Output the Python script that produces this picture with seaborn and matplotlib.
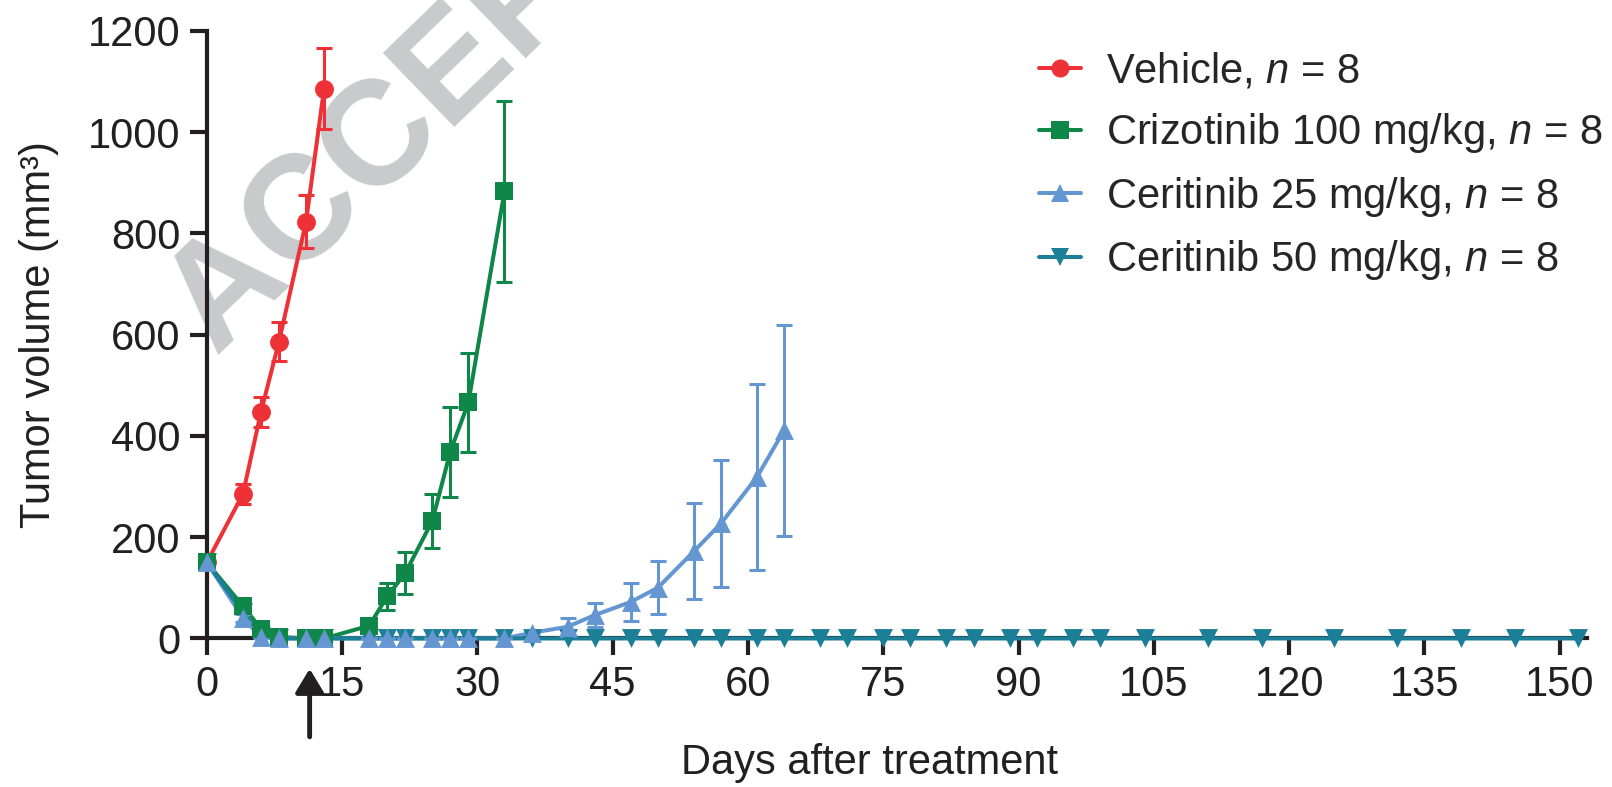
import numpy as np
import pandas as pd
import matplotlib
matplotlib.use('Agg')
import matplotlib.pyplot as plt
from matplotlib.lines import Line2D
import seaborn as sns

# Values (mean and SEM, mm^3)
vehicle_days = [0, 4, 6, 8, 11, 13]
vehicle_mean = [150, 285, 447, 586, 823, 1086]
vehicle_sem = [8, 19, 29, 38, 52, 80]

crizo_days = [0, 4, 6, 8, 11, 13, 18, 20, 22, 25, 27, 29, 33]
crizo_mean = [150, 64, 19, 3, 0, 0, 25, 83, 129, 232, 369, 466, 883]
crizo_sem = [8, 8, 5, 2, 0, 0, 5, 27, 42, 54, 89, 98, 179]

cer25_days = [0, 4, 6, 8, 11, 13, 18, 20, 22, 25, 27, 29, 33,
              36, 40, 43, 47, 50, 54, 57, 61, 64]
cer25_mean = [150, 41, 2, 0, 0, 0, 0, 0, 0, 0, 0, 0, 0,
              11, 23, 46, 72, 100, 172, 227, 319, 411]
cer25_sem = [8, 8, 1, 0, 0, 0, 0, 0, 0, 0, 0, 0, 0,
             2, 18, 24, 37, 52, 95, 126, 183, 208]

cer50_days = [0, 4, 6, 8, 11, 13, 18, 20, 22, 25, 27, 29, 33, 36, 40, 43,
              47, 50, 54, 57, 61, 64, 68, 71, 75, 78, 82, 85, 89, 92, 96,
              99, 104, 111, 117, 125, 132, 139, 145, 152]
cer50_mean = [150, 52, 6] + [0] * 37

labels = ['Vehicle, $n$ = 8', 'Crizotinib 100 mg/kg, $n$ = 8',
          'Ceritinib 25 mg/kg, $n$ = 8', 'Ceritinib 50 mg/kg, $n$ = 8']
colors = ['#ee3137', '#0f8748', '#6497d1', '#1b7f97']
markers = ['o', 's', '^', 'v']
xticks = list(range(0, 151, 15))
yticks = list(range(0, 1201, 200))

sns.set_style('ticks')
plt.rcParams['font.family'] = ['Liberation Sans', 'DejaVu Sans']
plt.rcParams['mathtext.fontset'] = 'custom'
plt.rcParams['mathtext.rm'] = 'Liberation Sans'
plt.rcParams['mathtext.it'] = 'Liberation Sans:italic'

ink = '#231f20'
fig = plt.figure(figsize=(16.12, 7.87), dpi=100)
ax = fig.add_axes([0.1283, 0.1888, 0.8561, 0.772])
ax.set_facecolor('none')

series = [
    (vehicle_days, vehicle_mean, vehicle_sem),
    (crizo_days, crizo_mean, crizo_sem),
    (cer25_days, cer25_mean, cer25_sem),
    (cer50_days, cer50_mean, None),
]

# lines first
for (d, m, e), c in zip(series, colors):
    sns.lineplot(x=d, y=m, color=c, linewidth=2.9, ax=ax, zorder=3,
                 clip_on=False)

# error bars
for (d, m, e), c in zip(series, colors):
    if e is None:
        continue
    ax.errorbar(d, m, yerr=e, fmt='none', ecolor=c, elinewidth=2.2,
                capsize=5.5, capthick=2.2, zorder=3, clip_on=False)

# markers, teal underneath so the others sit on top
order = [3, 0, 1, 2]
for i in order:
    d, m, e = series[i]
    sns.scatterplot(x=d, y=m, marker=markers[i], color=colors[i], s=185,
                    linewidth=0, ax=ax, zorder=4 + order.index(i),
                    clip_on=False)

ax.set_xlim(0, 153)
ax.set_ylim(0, 1200)
ax.set_xticks(xticks)
ax.set_yticks(yticks)
ax.tick_params(axis='both', direction='out', length=12, width=3,
               labelsize=30, color=ink, labelcolor=ink)
ax.tick_params(axis='x', pad=7)
ax.tick_params(axis='y', pad=7)
sns.despine(ax=ax)
for sp in ['left', 'bottom']:
    ax.spines[sp].set_linewidth(3)
    ax.spines[sp].set_color(ink)

ax.set_xlabel('Days after treatment', fontsize=30, color=ink, va='center')
ax.set_ylabel('Tumor volume (mm³)', fontsize=30, color=ink, va='center')
ax.xaxis.set_label_coords(0.4805, -0.205)
ax.yaxis.set_label_coords(-0.1215, 0.5)

# dosing arrow below the x axis
ax.annotate('', xy=(11.4, -0.05), xytext=(11.4, -0.162),
            xycoords=ax.get_xaxis_transform(),
            textcoords=ax.get_xaxis_transform(),
            arrowprops=dict(arrowstyle='-|>,head_length=0.48,head_width=0.29',
                            color=ink, lw=3.5, mutation_scale=30,
                            shrinkA=0, shrinkB=0), annotation_clip=False)

# watermark
ax.text(216 / 1612, 1 - 357 / 787, 'ACCEPTED MANUSCRIPT', transform=fig.transFigure,
        fontsize=107, fontweight='bold', color='#c9cacc', rotation=44,
        rotation_mode='anchor', ha='left', va='baseline', zorder=1,
        clip_on=False)

handles = [Line2D([0], [0], color=c, marker=mk, markersize=13, linewidth=2.9,
                  markeredgewidth=0) for c, mk in zip(colors, markers)]
ax.legend(handles, labels, loc='upper left', frameon=False, fontsize=30,
          bbox_to_anchor=(1039 / 1612, 1 - 52 / 787),
          bbox_transform=fig.transFigure, borderaxespad=0, borderpad=0,
          handlelength=1.0, handletextpad=0.62, labelspacing=0.465)

fig.savefig('out.png', dpi=100)
